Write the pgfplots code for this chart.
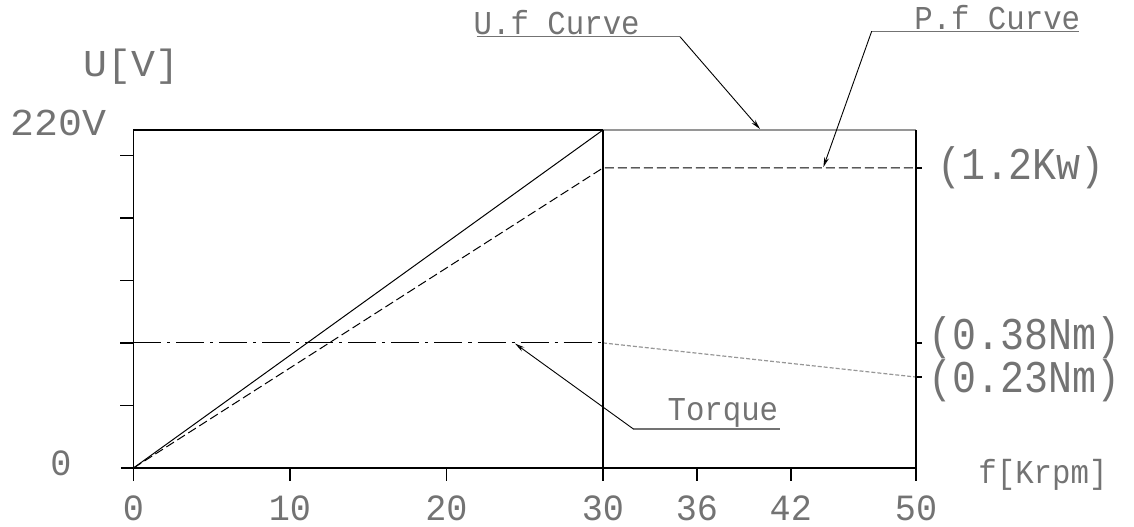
\documentclass[border=0pt]{standalone}
\usepackage{fontspec}
\usepackage{pgfplots}
\pgfplotsset{compat=1.18}
\usetikzlibrary{arrows.meta}
\setmainfont{Liberation Mono}
\newfontfamily\cadN[FakeStretch=0.92]{Liberation Mono}
\newfontfamily\cadT[FakeStretch=0.88]{Liberation Mono}
\newfontfamily\cadX[FakeStretch=0.95]{Liberation Mono}
\newfontfamily\cadV[FakeStretch=1.05]{Liberation Mono}
\newcommand\lbl{\cadN\fontsize{16.7}{20}\selectfont}
\newcommand\tck{\cadX\fontsize{18.5}{22}\selectfont}
\newcommand\rlbl{\cadT\fontsize{22.7}{26}\selectfont}
\newcommand\vlbl{\cadV\fontsize{19}{22}\selectfont}
\definecolor{txt}{RGB}{115,115,115}
\definecolor{ln}{RGB}{150,150,150}
\tikzset{lead/.style={black, line width=0.45pt, -{Stealth[open,length=5pt,width=2.4pt]}}}
\begin{document}
\begin{tikzpicture}
\begin{axis}[
    x=7.825pt, y=0.7682pt,
    xmin=-0.8, xmax=50, ymin=-8.5, ymax=220,
    axis lines=middle,
    axis line style={-, black, line width=0.75pt},
    tick style={black, line width=0.75pt},
    tick align=outside, major tick length=6.5pt,
    xtick={0,10,20,30,36,42,50},
    xticklabels={0,10,20,30,36,42,50},
    xticklabel style={font=\tck, text=txt, anchor=north, inner sep=0pt, yshift=-7pt},
    ytick={0,40.7,81.4,122.1,162.8,203.5},
    yticklabels={},
    clip=false,
  ]
  % U.f curve
  \addplot[black, line width=0.5pt] coordinates {(0,0) (30,220)};
  \addplot[ln, line width=1pt] coordinates {(30,220) (50,220)};
  % P.f curve
  \addplot[black, line width=0.5pt, dash pattern=on 4.5pt off 2pt] coordinates {(0,0) (30,195.3) (50,195.3)};
  % Torque
  \addplot[black, line width=0.5pt, dash pattern=on 14pt off 3pt on 1.5pt off 3pt] coordinates {(0,81.4) (30,81.4)};
  \addplot[ln, line width=0.6pt, dash pattern=on 2pt off 1pt] coordinates {(30,81.4) (50,59.2)};

  % frame
  \draw[black, line width=0.75pt] (axis cs:0,220) -- (axis cs:30,220);
  \draw[black, line width=0.75pt] (axis cs:30,0) -- (axis cs:30,220);
  \draw[black, line width=0.75pt] (axis cs:50,0) -- (axis cs:50,220);
  \draw[black, line width=0.75pt] (axis cs:50,195.3) -- (axis cs:50.4,195.3);
  \draw[black, line width=0.75pt] (axis cs:50,81.4) -- (axis cs:50.4,81.4);
  \draw[black, line width=0.75pt] (axis cs:50,59.2) -- (axis cs:50.4,59.2);

  % left / axis texts
  \node[font=\vlbl, text=txt, anchor=base, inner sep=0] at (axis cs:-0.13,254.7) {U[V]};
  \node[font=\vlbl, text=txt, anchor=base east, inner sep=0] at (axis cs:-1.71,216.7) {220V};
  \node[font=\tck, text=txt, anchor=base, inner sep=0] at (axis cs:-4.63,-5.2) {0};
  \node[font=\tck, text=txt, anchor=north, inner sep=0] at (axis cs:0,-17.6) {0};
  \node[font=\lbl, text=txt, anchor=base west, inner sep=0] at (axis cs:53.96,-10.4) {f[Krpm]};

  % right texts
  \node[font=\rlbl, text=txt, anchor=west, inner sep=0] at (axis cs:51.32,195.3) {(1.2Kw)};
  \node[font=\rlbl, text=txt, anchor=west, inner sep=0] at (axis cs:50.76,84.6) {(0.38Nm)};
  \node[font=\rlbl, text=txt, anchor=west, inner sep=0] at (axis cs:50.76,56.6) {(0.23Nm)};

  % leaders
  \node[font=\lbl, text=txt, anchor=base, inner sep=0] at (axis cs:27.04,282.3) {U.f Curve};
  \draw[txt, line width=0.6pt] (axis cs:21.93,280.7) -- (axis cs:34.92,280.7);
  \draw[lead] (axis cs:34.92,280.7) -- (axis cs:40.03,220.6);

  \node[font=\lbl, text=txt, anchor=base, inner sep=0] at (axis cs:55.19,285.5) {P.f Curve};
  \draw[txt, line width=0.6pt] (axis cs:47.17,284.3) -- (axis cs:60.42,284.3);
  \draw[lead] (axis cs:47.17,284.3) -- (axis cs:44.08,195.8);

  \node[font=\lbl, text=txt, anchor=base, inner sep=0] at (axis cs:37.66,30.6) {Torque};
  \draw[txt, line width=0.6pt] (axis cs:31.94,25.4) -- (axis cs:41.31,25.4);
  \draw[lead] (axis cs:31.94,25.4) -- (axis cs:24.38,81.0);

  \coordinate (tl) at (axis cs:-8.530,304.6);
  \coordinate (br) at (axis cs:63.93,-38.40);
\end{axis}
\pgfresetboundingbox
\path (tl) rectangle (br);
\end{tikzpicture}
\end{document}
